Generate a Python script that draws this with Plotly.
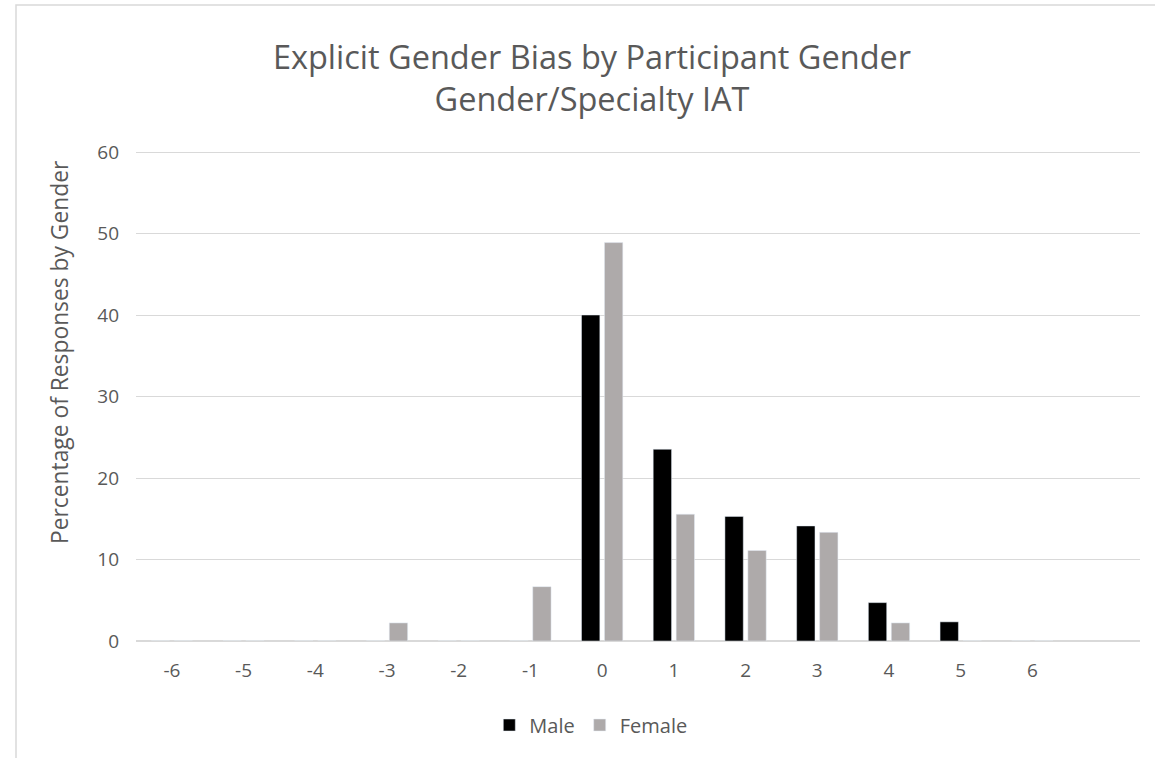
import plotly.graph_objects as go

categories = [-6, -5, -4, -3, -2, -1, 0, 1, 2, 3, 4, 5, 6]
tick_labels = ["-6", "-5", "-4", "-3", "-2", "-1", "0", "1", "2", "3", "4", "5", "6"]
male = [0, 0, 0, 0, 0, 0, 40.0, 23.53, 15.29, 14.12, 4.71, 2.35, 0]
female = [0, 0, 0, 2.22, 0, 6.67, 48.89, 15.56, 11.11, 13.33, 2.22, 0, 0]
y_ticks = [0, 10, 20, 30, 40, 50, 60]
title_text = "Explicit Gender Bias by Participant Gender<br>Gender/Specialty IAT"

TXT = "#595959"
GRID = "#d9d9d9"
FONT = "Open Sans"

fig = go.Figure()
fig.add_trace(go.Bar(x=categories, y=male, name="Male", marker=dict(color="#000000")))
fig.add_trace(go.Bar(x=categories, y=female, name="Female", marker=dict(color="#AEAAAA")))

top_m, bot_m = 150, 117
ph = 758 - top_m - bot_m
pw = 1155 - 136 - 15


def py(px):
    return (641 - px) / ph


def pxx(px):
    return (px - 136) / pw


fig.update_layout(
    width=1155, height=758,
    margin=dict(l=136, r=15, t=top_m, b=bot_m, autoexpand=False),
    paper_bgcolor="white", plot_bgcolor="white",
    barmode="group", bargap=0.36, bargroupgap=0.2,
    font=dict(family=FONT, color=TXT),
    title=dict(
        text=title_text, x=592 / 1155, xanchor="center",
        y=1 - 69 / 758, yanchor="middle",
        font=dict(size=32.5, color=TXT, family=FONT),
    ),
    showlegend=True,
    legend=dict(orientation="h", x=0.453, xanchor="center", y=py(725), yanchor="middle",
                font=dict(size=20, color=TXT), traceorder="normal"),
    xaxis=dict(
        range=[-6.5, 7.5], tickmode="array", tickvals=categories, ticktext=tick_labels,
        showgrid=False, zeroline=False, showline=False, ticks="", ticklabelstandoff=16,
        tickfont=dict(size=19, color=TXT), fixedrange=True, automargin=False,
    ),
    yaxis=dict(
        range=[0, 60.25], tickmode="array", tickvals=y_ticks,
        showgrid=True, gridcolor=GRID, gridwidth=1,
        zeroline=True, zerolinecolor=GRID, zerolinewidth=1.5,
        showline=False, ticks="", ticklabelstandoff=16,
        tickfont=dict(size=19, color=TXT), fixedrange=True, automargin=False,
    ),
    annotations=[dict(
        text="Percentage of Responses by Gender", xref="paper", yref="paper",
        x=pxx(59), y=py(353), xanchor="center", yanchor="middle", textangle=-90,
        showarrow=False, font=dict(size=22.8, color=TXT, family=FONT),
    )],
    shapes=[dict(
        type="rect", xref="paper", yref="paper",
        x0=pxx(16), x1=1.2, y0=-0.5, y1=py(5),
        line=dict(color=GRID, width=1.5), fillcolor="rgba(0,0,0,0)", layer="below",
    )],
)

fig.write_html("out.html", config={"displayModeBar": False},
               post_script="document.body.style.margin='0';")
